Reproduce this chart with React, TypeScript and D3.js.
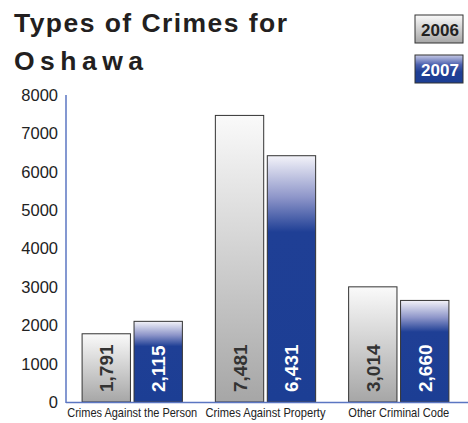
import React from 'react';
import * as d3 from 'd3';

const categories = ['Crimes Against the Person', 'Crimes Against Property', 'Other Criminal Code'];
const categoryWidths = [130, 120, 101];
const years = ['2006', '2007'];
const values2006 = [1791, 7481, 3014];
const values2007 = [2115, 6431, 2660];
const yTicks = [0, 1000, 2000, 3000, 4000, 5000, 6000, 7000, 8000];

const W = 468;
const H = 423;
const margin = { top: 95, left: 66, bottom: 21, right: 3 };

const App: React.FC = () => {
  const baseY = H - margin.bottom;

  const x0 = d3.scaleBand<string>()
    .domain(categories)
    .range([margin.left, W - margin.right])
    .paddingInner(0.24)
    .paddingOuter(0.117);

  const x1 = d3.scaleBand<string>()
    .domain(years)
    .range([0, x0.bandwidth()])
    .paddingInner(0.05);

  const y = d3.scaleLinear().domain([0, 8000]).range([baseY, margin.top]);

  const fmt = d3.format(',');
  const seriesValues = [values2006, values2007];

  const bars = categories.flatMap((c, i) =>
    years.map((yr, j) => ({ cat: c, year: yr, value: seriesValues[j][i], j }))
  );

  const axisColor = '#5b76c2';
  const sans = '"Liberation Sans", Arial, sans-serif';

  return (
    <div style={{ position: 'absolute', left: 0, top: 0 }}>
      <svg width={W} height={H} style={{ display: 'block', background: '#fff' }}>
        <defs>
          <linearGradient id="grayGrad" x1="0" y1="0" x2="0" y2="1">
            <stop offset="0" stopColor="#fafafa" />
            <stop offset="1" stopColor="#a6a6a6" />
          </linearGradient>
          <linearGradient id="blueGrad" x1="0" y1="0" x2="0" y2="1">
            <stop offset="0" stopColor="#f3f3f9" />
            <stop offset="0.17" stopColor="#8d95c9" />
            <stop offset="0.31" stopColor="#1f3f95" />
            <stop offset="1" stopColor="#1c3e94" />
          </linearGradient>
          <linearGradient id="blueLegend" x1="0" y1="0" x2="0" y2="1">
            <stop offset="0" stopColor="#c8cbe6" />
            <stop offset="0.35" stopColor="#4a5fae" />
            <stop offset="0.6" stopColor="#1f3f95" />
            <stop offset="1" stopColor="#1c3e94" />
          </linearGradient>
        </defs>

        {/* title */}
        <g fontFamily={sans} fontWeight="bold" fill="#231f20" fontSize={26.5}>
          <text x={14} y={32} textLength={273} lengthAdjust="spacing">Types of Crimes for</text>
          <text x={14} y={70} textLength={129} lengthAdjust="spacing">Oshawa</text>
        </g>

        {/* legend */}
        {years.map((yr, j) => (
          <g key={yr} transform={`translate(415,${15 + j * 40})`}>
            <rect width={48} height={28} fill={j === 0 ? 'url(#grayGrad)' : 'url(#blueLegend)'}
              stroke="#333" strokeWidth={1} />
            <text x={25} y={21} textAnchor="middle" fontFamily={sans} fontWeight="bold"
              fontSize={17} fill={j === 0 ? '#222' : '#fff'}>{yr}</text>
          </g>
        ))}

        {/* y tick labels */}
        {yTicks.map(t => (
          <text key={t} x={58} y={y(t)} dy="0.36em" textAnchor="end" fontFamily={sans}
            fontSize={16.5} fill="#222">{t}</text>
        ))}

        {/* bars */}
        {bars.map(b => {
          const bx = (x0(b.cat) || 0) + (x1(b.year) || 0);
          const bw = x1.bandwidth();
          const by = y(b.value);
          return (
            <g key={b.cat + b.year}>
              <rect x={bx + 0.5} y={by + 0.5} width={bw - 1} height={baseY - by - 0.5}
                fill={b.j === 0 ? 'url(#grayGrad)' : 'url(#blueGrad)'}
                stroke="#333" strokeWidth={1} />
              <text transform={`translate(${bx + bw / 2 + 7},${baseY - 10}) rotate(-90)`}
                fontFamily={sans} fontWeight="bold" fontSize={19}
                fill={b.j === 0 ? '#333' : '#fff'}>{fmt(b.value)}</text>
            </g>
          );
        })}

        {/* axes */}
        <line x1={margin.left} x2={margin.left} y1={margin.top} y2={baseY + 1}
          stroke={axisColor} strokeWidth={1.5} />
        <line x1={margin.left} x2={W} y1={baseY + 0.5} y2={baseY + 0.5}
          stroke={axisColor} strokeWidth={1.5} />

        {/* category labels */}
        {categories.map((c, i) => (
          <text key={c} x={(x0(c) || 0) + x0.bandwidth() / 2 - categoryWidths[i] / 2} y={417}
            textLength={categoryWidths[i]} lengthAdjust="spacingAndGlyphs"
            fontFamily={sans} fontSize={13} fill="#222">{c}</text>
        ))}
      </svg>
    </div>
  );
};

export default App;
